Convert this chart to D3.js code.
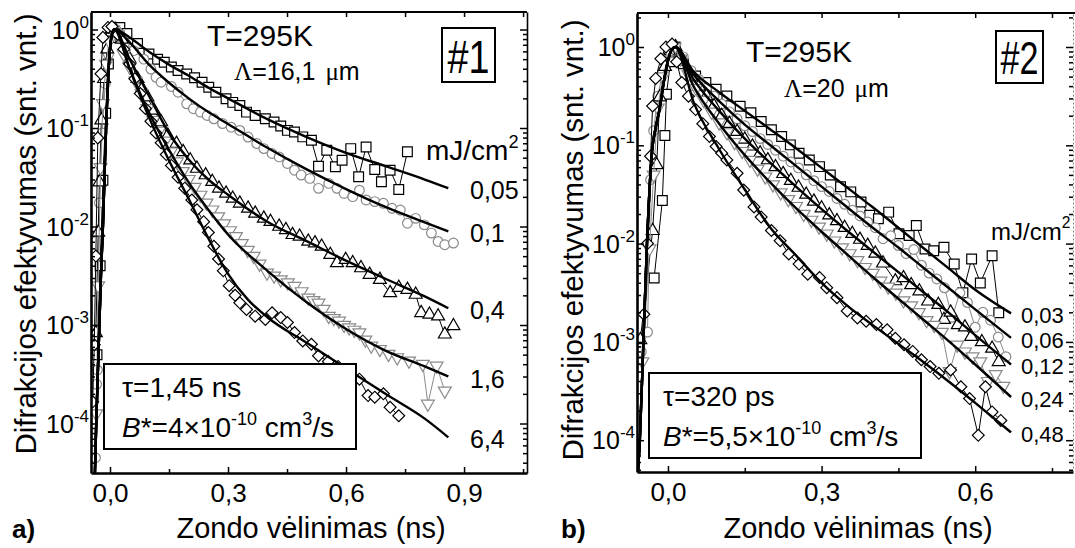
<!DOCTYPE html>
<html>
<head>
<meta charset="utf-8">
<script src="https://cdn.jsdelivr.net/npm/d3@7"></script>
<style>
  body { margin: 0; background: #fff; }
  svg { display: block; font-family: "Liberation Sans", Arial, sans-serif; }
</style>
</head>
<body>
<svg id="chart" width="1075" height="548"></svg>
<script>
// ---- panel a) sample #1: [delay ns, efficiency]
const sqA = [[-0.033,5.0e-4],[-0.025,0.004],[-0.018,0.0295],[-0.011,0.141],[-0.004,0.447],[0.003,0.83],[0.012,1.0],[0.025,1.05],[0.043,0.91],[0.07,0.72],[0.099,0.564],[0.121,0.5],[0.138,0.465],[0.156,0.417],[0.173,0.383],[0.195,0.354],[0.215,0.324],[0.234,0.292],[0.251,0.259],[0.269,0.231],[0.295,0.198],[0.312,0.182],[0.33,0.169],[0.347,0.145],[0.369,0.134],[0.395,0.124],[0.417,0.115],[0.434,0.105],[0.451,0.0946],[0.469,0.0912],[0.49,0.0813],[0.512,0.0752],[0.53,0.041],[0.551,0.0594],[0.573,0.0404],[0.59,0.0471],[0.612,0.0618],[0.632,0.032],[0.651,0.0643],[0.673,0.0379],[0.69,0.0285],[0.712,0.0373],[0.734,0.0238],[0.756,0.0573]];
const ciA = [[-0.037,4.5e-5],[-0.034,2.5e-4],[-0.032,3.5e-4],[-0.027,0.0174],[-0.02,0.089],[-0.012,0.282],[-0.004,0.562],[0.005,0.891],[0.015,1.0],[0.025,0.891],[0.038,0.74],[0.06,0.61],[0.086,0.5],[0.104,0.397],[0.117,0.327],[0.13,0.292],[0.156,0.264],[0.173,0.231],[0.195,0.176],[0.212,0.157],[0.23,0.145],[0.247,0.134],[0.264,0.124],[0.286,0.111],[0.308,0.102],[0.33,0.0946],[0.351,0.081],[0.373,0.0695],[0.391,0.0618],[0.412,0.0551],[0.43,0.0509],[0.451,0.0437],[0.469,0.0373],[0.486,0.0333],[0.508,0.0308],[0.53,0.0244],[0.556,0.0274],[0.577,0.0244],[0.595,0.0217],[0.617,0.0201],[0.634,0.0234],[0.651,0.0186],[0.673,0.0179],[0.695,0.0172],[0.717,0.0153],[0.738,0.0147],[0.756,0.0108],[0.777,0.0121],[0.799,0.0104],[0.817,0.00857],[0.834,0.00705],[0.851,0.00653],[0.873,0.00679]];
const trA = [[-0.036,8.3e-4],[-0.03,0.0087],[-0.027,0.0282],[-0.022,0.12],[-0.015,0.316],[-0.007,0.631],[0.003,0.933],[0.013,1.0],[0.03,0.794],[0.05,0.501],[0.07,0.316],[0.082,0.251],[0.095,0.206],[0.112,0.151],[0.13,0.115],[0.147,0.0843],[0.169,0.0695],[0.186,0.0573],[0.204,0.0471],[0.221,0.0388],[0.243,0.0333],[0.26,0.0285],[0.277,0.0244],[0.295,0.0217],[0.312,0.0193],[0.33,0.0172],[0.351,0.0153],[0.369,0.0136],[0.391,0.0121],[0.408,0.0112],[0.43,0.01],[0.447,0.00925],[0.464,0.00824],[0.482,0.00793],[0.504,0.00705],[0.521,0.00679],[0.538,0.00628],[0.56,0.00518],[0.577,0.00427],[0.599,0.0046],[0.617,0.00427],[0.638,0.00379],[0.66,0.00325],[0.686,0.00289],[0.712,0.00212],[0.734,0.0024],[0.756,0.00229],[0.777,0.00204],[0.791,0.00133],[0.812,0.00128],[0.834,0.00123],[0.851,0.000805],[0.873,0.000977]];
const dnA = [[-0.035,1.26e-4],[-0.03,0.00251],[-0.024,0.0398],[-0.018,0.178],[-0.01,0.447],[-0.002,0.759],[0.008,1.0],[0.02,0.891],[0.035,0.562],[0.05,0.417],[0.065,0.302],[0.08,0.224],[0.095,0.158],[0.11,0.12],[0.125,0.0933],[0.14,0.0741],[0.155,0.0575],[0.17,0.0457],[0.185,0.0363],[0.2,0.0302],[0.215,0.0251],[0.23,0.0209],[0.245,0.0174],[0.26,0.0148],[0.275,0.0126],[0.29,0.0107],[0.305,0.00912],[0.32,0.00794],[0.335,0.00676],[0.35,0.00575],[0.365,0.00501],[0.38,0.00417],[0.399,0.00339],[0.417,0.00316],[0.434,0.00289],[0.452,0.00269],[0.469,0.00248],[0.487,0.00219],[0.504,0.00189],[0.517,0.00178],[0.53,0.00168],[0.543,0.00145],[0.556,0.00123],[0.569,0.00117],[0.582,0.0011],[0.595,0.001],[0.608,0.00094],[0.621,0.00089],[0.634,0.000838],[0.649,0.000708],[0.664,0.000614],[0.686,0.000568],[0.708,0.000506],[0.73,0.000468],[0.76,0.000433],[0.795,0.000401],[0.808,0.000158],[0.83,0.000385],[0.851,0.000215]];
const dmA = [[-0.044,1.66e-4],[-0.04,6.31e-4],[-0.036,0.00501],[-0.031,0.0794],[-0.023,0.355],[-0.018,0.832],[-0.005,1.05],[0.005,1.07],[0.02,0.891],[0.035,0.631],[0.05,0.447],[0.063,0.316],[0.077,0.224],[0.09,0.158],[0.104,0.117],[0.117,0.0891],[0.13,0.0708],[0.143,0.0537],[0.156,0.0417],[0.173,0.0316],[0.19,0.0245],[0.208,0.0186],[0.221,0.0148],[0.238,0.0112],[0.25,0.0087],[0.264,0.00631],[0.276,0.00468],[0.288,0.00355],[0.303,0.00251],[0.318,0.002],[0.33,0.00168],[0.347,0.00144],[0.369,0.00123],[0.395,0.00114],[0.412,0.00133],[0.434,0.00119],[0.451,0.00106],[0.469,0.000838],[0.49,0.000689],[0.512,0.000638],[0.53,0.000486],[0.555,0.000427],[0.58,0.00038],[0.6,0.000339],[0.634,0.000282],[0.656,0.000192],[0.673,0.000185],[0.695,0.0002],[0.712,0.000146],[0.734,0.00012]];

// fitted curves, panel a): common rising edge + one decay per fluence
const riseFitA = [[-0.0385,3.0e-5],[-0.035,1e-4],[-0.031,3.2e-4],[-0.027,1e-3],[-0.023,3.2e-3],[-0.018,0.01],[-0.014,0.032],[-0.01,0.1],[-0.006,0.25],[-0.002,0.5],[0.002,0.76],[0.006,0.93],[0.011,1.0]];
const fitA005 = [[0.05,0.83],[0.1,0.59],[0.15,0.44],[0.2,0.34],[0.25,0.257],[0.3,0.2],[0.4,0.123],[0.5,0.081],[0.6,0.056],[0.7,0.041],[0.8,0.030],[0.86,0.0245]];
const fitA01 = [[0.05,0.74],[0.1,0.437],[0.15,0.288],[0.2,0.2],[0.25,0.145],[0.3,0.11],[0.4,0.063],[0.5,0.038],[0.6,0.024],[0.7,0.0158],[0.8,0.011],[0.86,0.0089]];
const fitA04 = [[0.05,0.5],[0.1,0.209],[0.15,0.089],[0.2,0.048],[0.25,0.030],[0.3,0.021],[0.4,0.0112],[0.5,0.0071],[0.6,0.0045],[0.7,0.00295],[0.8,0.00195],[0.86,0.00148]];
const fitA16 = [[0.05,0.4],[0.1,0.141],[0.15,0.06],[0.2,0.028],[0.25,0.0148],[0.3,0.0083],[0.4,0.00355],[0.5,0.0017],[0.6,0.00091],[0.7,0.00055],[0.8,0.00038],[0.86,0.0003]];
const fitA64 = [[0.05,0.398],[0.1,0.126],[0.15,0.0468],[0.2,0.0191],[0.25,0.00759],[0.3,0.00331],[0.35,0.00182],[0.4,0.0012],[0.5,0.00066],[0.6,0.000363],[0.7,0.0002],[0.8,0.000112],[0.86,0.0000724]];

// ---- panel b) sample #2
const sqB = [[-0.027,0.00447],[-0.011,0.0275],[-0.006,0.126],[-0.003,0.331],[0.005,0.708],[0.014,1.0],[0.03,0.676],[0.054,0.508],[0.074,0.435],[0.094,0.371],[0.115,0.317],[0.141,0.25],[0.162,0.214],[0.182,0.175],[0.202,0.144],[0.222,0.123],[0.239,0.101],[0.256,0.0832],[0.276,0.071],[0.296,0.0607],[0.317,0.0498],[0.337,0.0378],[0.357,0.0336],[0.377,0.0265],[0.394,0.0194],[0.411,0.0179],[0.431,0.0209],[0.451,0.0126],[0.471,0.0121],[0.485,0.0153],[0.502,0.00883],[0.519,0.00847],[0.539,0.00916],[0.559,0.00619],[0.576,0.00316],[0.593,0.00697],[0.61,0.00398],[0.633,0.00753],[0.646,0.00198]];
const ciB = [[-0.052,0.000794],[-0.04,0.00126],[-0.034,0.0447],[-0.028,0.141],[-0.02,0.316],[-0.01,0.562],[0.002,0.871],[0.014,1.0],[0.03,0.794],[0.045,0.575],[0.06,0.468],[0.075,0.38],[0.09,0.316],[0.105,0.263],[0.12,0.219],[0.135,0.186],[0.15,0.158],[0.165,0.138],[0.18,0.117],[0.195,0.102],[0.21,0.0891],[0.225,0.0776],[0.24,0.0676],[0.255,0.0589],[0.27,0.0501],[0.285,0.0437],[0.3,0.038],[0.315,0.0339],[0.33,0.0288],[0.345,0.0251],[0.36,0.0219],[0.375,0.0191],[0.39,0.0166],[0.405,0.0145],[0.42,0.0112],[0.435,0.012],[0.45,0.00955],[0.465,0.00794],[0.48,0.00871],[0.495,0.00603],[0.51,0.00501],[0.525,0.00437],[0.54,0.00355],[0.555,0.00178],[0.57,0.00316],[0.585,0.00251],[0.6,0.00141],[0.615,0.002],[0.63,0.00166],[0.645,0.00112],[0.66,0.000708]];
const trB = [[-0.054,0.00105],[-0.03,0.0135],[-0.022,0.0631],[-0.016,0.309],[-0.006,0.631],[0.005,0.912],[0.015,1.0],[0.03,0.708],[0.045,0.501],[0.06,0.398],[0.075,0.316],[0.09,0.251],[0.105,0.2],[0.12,0.166],[0.135,0.138],[0.15,0.115],[0.165,0.0977],[0.18,0.0832],[0.195,0.0708],[0.21,0.0603],[0.225,0.0513],[0.24,0.0437],[0.255,0.0372],[0.27,0.0316],[0.285,0.0269],[0.3,0.0229],[0.315,0.0195],[0.33,0.017],[0.345,0.0145],[0.36,0.0126],[0.375,0.011],[0.39,0.00955],[0.405,0.00794],[0.42,0.00631],[0.444,0.00416],[0.46,0.00447],[0.475,0.0038],[0.491,0.00328],[0.508,0.00259],[0.528,0.00239],[0.539,0.00168],[0.552,0.002],[0.566,0.00149],[0.58,0.00141],[0.592,0.00113],[0.613,0.001],[0.633,0.000857],[0.646,0.000627]];
const dnB = [[-0.05,0.000631],[-0.036,0.00891],[-0.028,0.0501],[-0.02,0.24],[-0.01,0.501],[0.003,0.891],[0.013,1.0],[0.025,0.759],[0.04,0.525],[0.055,0.38],[0.07,0.288],[0.085,0.219],[0.1,0.17],[0.115,0.135],[0.13,0.107],[0.145,0.0871],[0.16,0.0708],[0.175,0.0575],[0.19,0.0479],[0.205,0.0398],[0.22,0.0331],[0.235,0.0282],[0.25,0.024],[0.265,0.02],[0.28,0.0174],[0.295,0.0148],[0.31,0.0126],[0.325,0.0107],[0.34,0.00912],[0.355,0.00794],[0.37,0.00676],[0.385,0.00575],[0.4,0.00501],[0.415,0.00417],[0.43,0.00363],[0.445,0.00316],[0.46,0.00263],[0.475,0.00234],[0.49,0.002],[0.505,0.00166],[0.52,0.00148],[0.535,0.00126],[0.55,0.000501],[0.565,0.000933],[0.58,0.000794],[0.595,0.000708],[0.61,0.000631],[0.625,0.000398],[0.64,0.000468],[0.655,0.000355]];
const dmB = [[-0.047,0.00191],[-0.04,0.01],[-0.034,0.0776],[-0.03,0.251],[-0.024,0.479],[-0.014,0.759],[-0.004,1.0],[0.008,1.07],[0.017,0.708],[0.027,0.435],[0.04,0.316],[0.054,0.231],[0.068,0.166],[0.081,0.123],[0.094,0.0973],[0.105,0.0832],[0.115,0.071],[0.135,0.0519],[0.148,0.035],[0.168,0.0236],[0.182,0.0186],[0.202,0.0136],[0.219,0.0107],[0.236,0.00783],[0.256,0.00619],[0.273,0.00489],[0.296,0.00452],[0.31,0.00356],[0.33,0.00282],[0.35,0.00206],[0.37,0.00175],[0.387,0.00162],[0.407,0.0015],[0.428,0.00133],[0.444,0.00109],[0.461,0.000935],[0.478,0.0008],[0.495,0.000658],[0.512,0.000561],[0.529,0.000479],[0.552,0.000519],[0.572,0.00035],[0.589,0.000265],[0.606,0.000112],[0.62,0.00035],[0.633,0.000194],[0.65,0.000159]];

const riseFitB = [[-0.059,4.47e-5],[-0.055,1e-4],[-0.048,1e-3],[-0.041,0.01],[-0.031,0.0891],[-0.024,0.151],[-0.016,0.24],[-0.008,0.447],[0.0,0.724],[0.007,0.933],[0.014,1.0]];
const fitB003 = [[0.05,0.562],[0.1,0.347],[0.15,0.224],[0.2,0.145],[0.25,0.0933],[0.3,0.0589],[0.35,0.0372],[0.4,0.0234],[0.45,0.0145],[0.5,0.00891],[0.55,0.0055],[0.6,0.00339],[0.67,0.00195]];
const fitB006 = [[0.05,0.525],[0.1,0.282],[0.15,0.162],[0.2,0.1],[0.25,0.0617],[0.3,0.038],[0.35,0.0234],[0.4,0.0145],[0.45,0.00912],[0.5,0.00562],[0.55,0.00347],[0.6,0.00214],[0.67,0.0011]];
const fitB012 = [[0.05,0.468],[0.1,0.224],[0.15,0.117],[0.2,0.0661],[0.25,0.038],[0.3,0.0224],[0.35,0.0135],[0.4,0.00832],[0.45,0.00513],[0.5,0.00316],[0.55,0.00195],[0.6,0.00117],[0.67,0.000589]];
const fitB024 = [[0.05,0.398],[0.1,0.166],[0.15,0.0794],[0.2,0.0417],[0.25,0.0229],[0.3,0.0132],[0.35,0.00776],[0.4,0.00457],[0.45,0.00275],[0.5,0.00166],[0.55,0.001],[0.6,0.000589],[0.67,0.000275]];
const fitB048 = [[0.05,0.275],[0.1,0.0912],[0.15,0.0355],[0.2,0.0145],[0.25,0.00759],[0.3,0.00398],[0.35,0.00234],[0.4,0.00148],[0.45,0.000955],[0.5,0.000617],[0.55,0.000389],[0.6,0.00024],[0.67,0.00012]];

// labels and ticks
const fluenceA = ["0,05", "0,1", "0,4", "1,6", "6,4"];
const fluenceB = ["0,03", "0,06", "0,12", "0,24", "0,48"];
const xTicksA = [0, 0.3, 0.6, 0.9];
const xMinorA = [0.15, 0.45, 0.75, 1.05];
const xTicksB = [0, 0.3, 0.6];
const xMinorB = [0.15, 0.45, 0.75];
const yTicks = [1e-4, 1e-3, 1e-2, 1e-1, 1];

const GREY = "#8a8a8a";
const svg = d3.select("#chart");
const lt = d3.formatLocale({decimal: ",", thousands: " ", grouping: [3], currency: ["", ""]});
const fmt = lt.format(".1f");

// marker look for the 5 fluences (same order in both panels)
const styles = [
  {type: d3.symbolSquare, size: 95, rot: 0, col: "#000"},
  {type: d3.symbolCircle, size: 74, rot: 0, col: GREY},
  {type: d3.symbolTriangle, size: 72, rot: 0, col: "#000"},
  {type: d3.symbolTriangle, size: 72, rot: 180, col: GREY},
  {type: d3.symbolSquare, size: 70, rot: 45, col: "#000"}
];

function drawPanel(p) {
  const x = d3.scaleLinear().domain(p.xDomain).range([p.left, p.right]);
  const y = d3.scaleLog().domain(p.yDomain).range([p.bottom, p.top]);
  const g = svg.append("g");

  svg.append("clipPath").attr("id", "clip" + p.id).append("rect")
    .attr("x", p.left).attr("y", p.top)
    .attr("width", p.right - p.left).attr("height", p.bottom - p.top);
  const plot = g.append("g").attr("clip-path", "url(#clip" + p.id + ")");

  const line = d3.line().x(d => x(d[0])).y(d => y(d[1]));
  const smooth = d3.line().x(d => x(d[0])).y(d => y(d[1])).curve(d3.curveMonotoneX);

  // measured points joined by thin lines
  p.data.forEach((ser, i) => {
    const st = styles[i];
    plot.append("path").datum(ser).attr("d", line)
      .attr("fill", "none").attr("stroke", st.col).attr("stroke-width", 1);
    plot.selectAll(null).data(ser).join("path")
      .attr("transform", d => `translate(${x(d[0])},${y(d[1])}) rotate(${st.rot})`)
      .attr("d", d3.symbol(st.type, st.size))
      .attr("fill", "#fff").attr("stroke", st.col).attr("stroke-width", 1.2);
  });

  // model curves
  p.fits.forEach(f => {
    plot.append("path").datum(p.riseFit.concat(f)).attr("d", smooth)
      .attr("fill", "none").attr("stroke", "#000").attr("stroke-width", 2.4);
  });

  // fluence labels next to curve ends
  g.append("g").selectAll("text").data(p.fits).join("text")
    .attr("x", p.labelX).attr("y", f => y(f[f.length - 1][1]) + p.labelSize * 0.36 + 2)
    .attr("font-size", p.labelSize).text((f, i) => p.labels[i]);

  // parameter box
  const b = p.box;
  g.append("rect").attr("x", b.x).attr("y", b.y).attr("width", b.w).attr("height", b.h)
    .attr("fill", "#fff").attr("stroke", "#000").attr("stroke-width", 2);
  g.append("text").attr("x", b.x + b.tx).attr("y", b.y + 33).attr("font-size", 28).text(b.tau);
  const bt = g.append("text").attr("x", b.x + b.tx).attr("y", b.y + 73).attr("font-size", 28);
  bt.append("tspan").attr("font-style", "italic").text("B");
  bt.append("tspan").text("*=" + b.coef + "\u00d710");
  bt.append("tspan").attr("dy", -12).attr("font-size", 18).text("-10");
  bt.append("tspan").attr("dy", 12).text(" cm");
  bt.append("tspan").attr("dy", -12).attr("font-size", 18).text("3");
  bt.append("tspan").attr("dy", 12).text("/s");

  // axes, ticks pointing inward
  const ax = (axis, tr) => {
    const a = g.append("g").attr("transform", tr).call(axis);
    a.selectAll("line").attr("stroke", "#000").attr("stroke-width", 1.5);
    return a;
  };
  const xb = ax(d3.axisBottom(x).tickValues(p.xTicks).tickSize(-6).tickSizeOuter(0)
    .tickPadding(11).tickFormat(fmt), `translate(0,${p.bottom})`);
  xb.attr("font-size", 26).attr("font-family", null);
  xb.select(".domain").attr("stroke-width", 2.6);
  ax(d3.axisBottom(x).tickValues(p.xMinor).tickSize(-4).tickSizeOuter(0).tickFormat(""),
     `translate(0,${p.bottom})`).select(".domain").remove();
  const xt = ax(d3.axisTop(x).tickValues(p.xTicks.concat(p.xMinor)).tickSize(-5).tickSizeOuter(0).tickFormat(""),
     `translate(0,${p.top})`);
  xt.select(".domain").attr("stroke-width", 2).attr("d", `M${p.left},0H${p.topEnd}`);

  const minor = [];
  for (let e = -5; e <= 0; e++) for (let k = 2; k <= 9; k++) {
    const v = k * Math.pow(10, e);
    if (v > p.yDomain[0] && v < p.yDomain[1]) minor.push(v);
  }
  const yl = ax(d3.axisLeft(y).tickValues(yTicks).tickSize(-7).tickSizeOuter(0).tickFormat(""),
     `translate(${p.left},0)`);
  yl.select(".domain").attr("stroke-width", 2.6);
  ax(d3.axisLeft(y).tickValues(minor).tickSize(-4).tickSizeOuter(0).tickFormat(""),
     `translate(${p.left},0)`).select(".domain").remove();
  const yr = ax(d3.axisRight(y).tickValues(yTicks).tickSize(-7).tickSizeOuter(0).tickFormat(""),
     `translate(${p.right},0)`);
  yr.select(".domain").attr("stroke-width", p.rightDotted ? 1 : 1.6)
    .attr("stroke", p.rightDotted ? "#888" : "#000")
    .attr("stroke-dasharray", p.rightDotted ? "2,2" : null);
  ax(d3.axisRight(y).tickValues(minor).tickSize(-4).tickSizeOuter(0).tickFormat(""),
     `translate(${p.right},0)`).select(".domain").remove();

  // y tick labels 10^n
  yTicks.forEach(v => {
    const t = g.append("text").attr("x", p.left - 2).attr("y", y(v) + 9)
      .attr("text-anchor", "end").attr("font-size", 25);
    t.append("tspan").text("10");
    t.append("tspan").attr("dy", -11).attr("font-size", 17).text(Math.round(Math.log10(v)));
  });

  // titles
  g.append("text").attr("transform", `translate(${p.yTitleX},${p.yTitleY}) rotate(-90)`)
    .attr("text-anchor", "middle").attr("font-size", 29.5)
    .text("Difrakcijos efektyvumas (snt. vnt.)");
  g.append("text").attr("x", p.xTitleX).attr("y", 538).attr("text-anchor", "middle")
    .attr("font-size", 29).text("Zondo v\u0117linimas (ns)");
  g.append("text").attr("x", p.tagX).attr("y", 538).attr("font-size", 26)
    .attr("font-weight", "bold").text(p.tag);

  // annotations
  g.append("text").attr("x", p.tX).attr("y", p.tY).attr("font-size", 30).text("T=295K");
  const lam = g.append("text").attr("x", p.lX).attr("y", p.lY).attr("font-size", 25);
  lam.append("tspan").attr("font-family", "Liberation Serif").text("\u039b");
  lam.append("tspan").text("=" + p.period);
  lam.append("tspan").attr("dx", 10).attr("font-family", "Liberation Serif").text("\u03bc");
  lam.append("tspan").text("m");

  const nb = p.num;
  g.append("rect").attr("x", nb.x).attr("y", nb.y).attr("width", nb.w).attr("height", nb.h)
    .attr("fill", "#fff").attr("stroke", "#000").attr("stroke-width", 2);
  g.append("text").attr("x", nb.x + nb.w / 2).attr("y", nb.y + nb.h - 9)
    .attr("text-anchor", "middle").attr("font-size", 46)
    .attr("textLength", nb.tl).attr("lengthAdjust", "spacingAndGlyphs").text(nb.text);

  const u = g.append("text").attr("x", p.uX).attr("y", p.uY).attr("font-size", p.uSize);
  u.append("tspan").text("mJ/cm");
  u.append("tspan").attr("dy", -12).attr("font-size", p.uSize * 0.65).text("2");
}

drawPanel({
  id: "A", left: 91, right: 527, top: 12, bottom: 473, topEnd: 527,
  xDomain: [-0.0483, 1.06], yDomain: [3.144e-5, 1.506],
  xTicks: xTicksA, xMinor: xMinorA,
  data: [sqA, ciA, trA, dnA, dmA], riseFit: riseFitA,
  fits: [fitA005, fitA01, fitA04, fitA16, fitA64],
  labels: fluenceA, labelX: 470, labelSize: 25,
  box: {x: 104, y: 364, w: 252, h: 85, tx: 18, tau: "\u03c4=1,45 ns", coef: "4"},
  yTitleX: 36, yTitleY: 234, xTitleX: 311, tag: "a)", tagX: 12,
  tX: 207, tY: 46, lX: 234, lY: 80, period: "16,1",
  num: {x: 442, y: 28, w: 53, h: 54, text: "#1", tl: 42},
  uX: 426, uY: 160, uSize: 28, rightDotted: false
});

drawPanel({
  id: "B", left: 637, right: 1073, top: 13, bottom: 472, topEnd: 1075,
  xDomain: [-0.0605, 0.791], yDomain: [4.747e-5, 2.218],
  xTicks: xTicksB, xMinor: xMinorB,
  data: [sqB, ciB, trB, dnB, dmB], riseFit: riseFitB,
  fits: [fitB003, fitB006, fitB012, fitB024, fitB048],
  labels: fluenceB, labelX: 1021, labelSize: 22,
  box: {x: 649, y: 373, w: 272, h: 85, tx: 14, tau: "\u03c4=320 ps", coef: "5,5"},
  yTitleX: 583, yTitleY: 240, xTitleX: 858, tag: "b)", tagX: 561,
  tX: 746, tY: 62, lX: 784, lY: 97, period: "20",
  num: {x: 996, y: 31, w: 47, h: 52, text: "#2", tl: 38},
  uX: 991, uY: 240, uSize: 24, rightDotted: true
});
</script>
</body>
</html>
